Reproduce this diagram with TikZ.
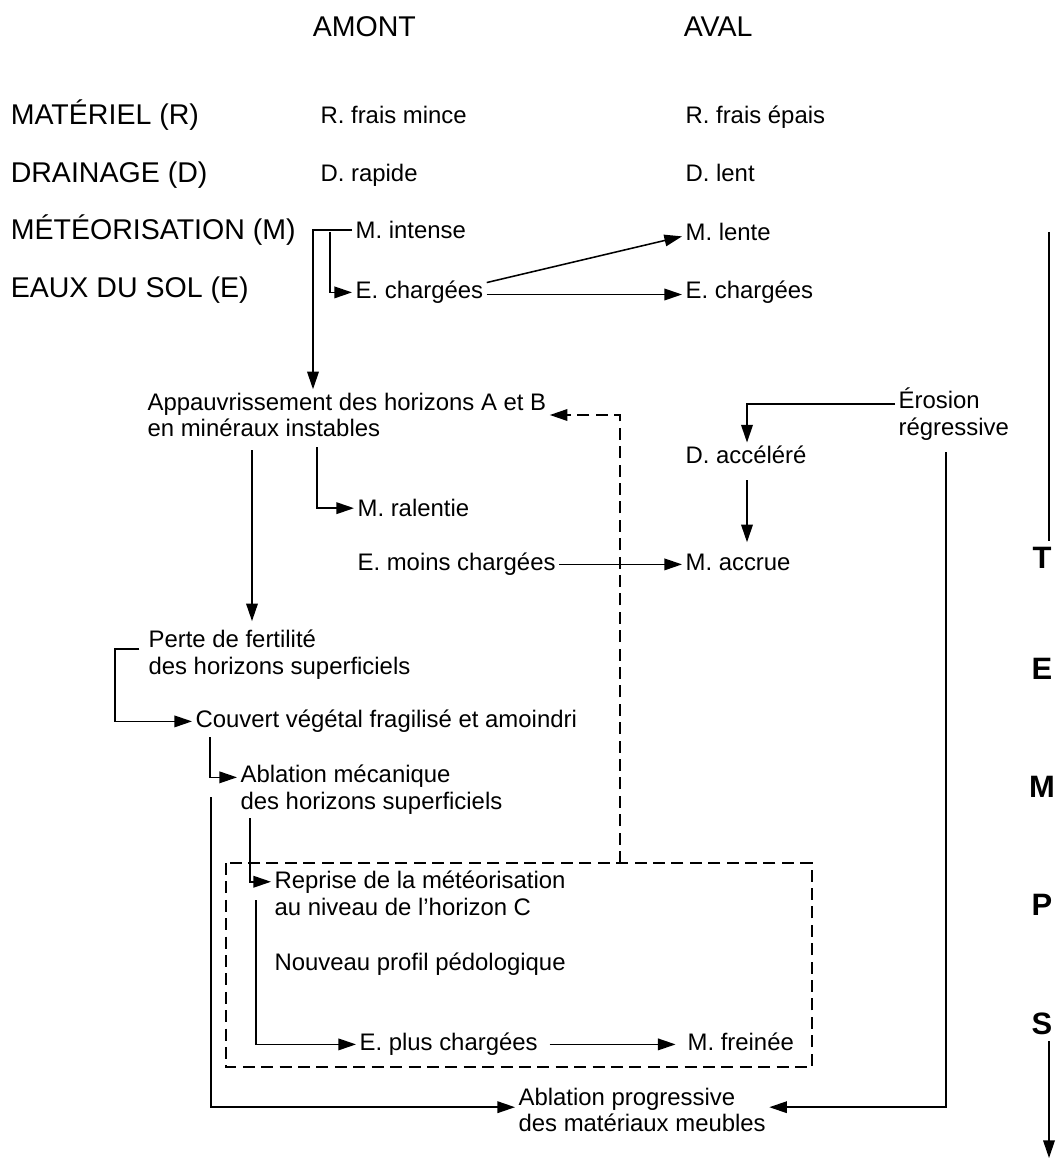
\documentclass[tikz,border=0pt]{standalone}
\usepackage{fontspec}
\setmainfont{Liberation Sans}
\usetikzlibrary{arrows.meta}

\tikzset{
  head/.style={font=\fontsize{20.3}{24}\selectfont, inner sep=0pt, anchor=mid west},
  txt/.style={font=\fontsize{17}{19}\selectfont, inner xsep=2pt, inner ysep=0pt, anchor=mid west, align=left},
  bloc/.style={txt, anchor=west},
  temps/.style={font=\fontsize{22}{26}\selectfont\bfseries, inner sep=0pt},
  arr/.style={-{Triangle[length=4.4mm,width=2.9mm]}},
  dashbox/.style={dash pattern=on 3mm off 1.6mm},
}

\begin{document}
\begin{tikzpicture}[x=0.025cm, y=-0.025cm, line width=1.1pt]
\useasboundingbox (0,0) rectangle (1055,1161);

\node[head] (amont) at (312,33) {AMONT};
\node[head] (aval) at (683,33) {AVAL};
\node[head] (mat) at (10,121) {MATÉRIEL (R)};
\node[head] (drain) at (10,179) {DRAINAGE (D)};
\node[head] (meteo) at (10,236) {MÉTÉORISATION (M)};
\node[head] (eaux) at (10,294) {EAUX DU SOL (E)};

\node[txt] (rmince) at (317,120) {R. frais mince};
\node[txt] (drapide) at (317,178) {D. rapide};
\node[txt] (mintense) at (352,235) {M. intense};
\node[txt] (echarg) at (352,295) {E. chargées};
\node[txt] (repais) at (682,120) {R. frais épais};
\node[txt] (dlent) at (682,178) {D. lent};
\node[txt] (mlente) at (682,237) {M. lente};
\node[txt] (echargav) at (682,295) {E. chargées};

\node[bloc] (appauv) at (144,415) {Appauvrissement des horizons A et B\\en minéraux instables};
\node[bloc] (erosion) at (895,414) {Érosion\\régressive};
\node[txt] (dacc) at (682,460) {D. accéléré};
\node[txt] (mral) at (354,513) {M. ralentie};
\node[txt] (emoins) at (354,567) {E. moins chargées};
\node[txt] (maccr) at (682,567) {M. accrue};
\node[bloc] (perte) at (145,655) {Perte de fertilité\\des horizons superficiels};
\node[txt] (couvert) at (192,724) {Couvert végétal fragilisé et amoindri};
\node[bloc] (ablmec) at (237,790) {Ablation mécanique\\des horizons superficiels};
\node[bloc] (reprise) at (271,893) {Reprise de la météorisation\\au niveau de l'horizon C};
\node[txt] (nouveau) at (271,967) {Nouveau profil pédologique};
\node[txt] (eplus) at (356,1047) {E. plus chargées};
\node[txt] (mfrein) at (684,1047) {M. freinée};
\node[bloc] (ablprog) at (515,1110) {Ablation progressive\\des matériaux meubles};

\node[temps] (t) at (1042,558) {T};
\node[temps] (e) at (1042,669) {E};
\node[temps] (m) at (1042,787) {M};
\node[temps] (p) at (1042,905) {P};
\node[temps] (s) at (1042,1024) {S};

\coordinate (k1) at (313,232);
\coordinate (k2) at (330,232);
\coordinate (k3) at (252,450);
\coordinate (k4) at (317,447);
\coordinate (k5) at (747,480);
\coordinate (k6) at (890,404);
\coordinate (k7) at (946,452);
\coordinate (k8) at (115,649);
\coordinate (k10) at (210,737);
\coordinate (k11) at (211,797);
\coordinate (k12) at (250,818);
\coordinate (k14) at (256,900);
\coordinate (k15) at (226,863);
\coordinate (k16) at (812,1067);
\coordinate (k17) at (620,863);
\coordinate (k18) at (1049,232);
\coordinate (k19) at (1049,1158);

\draw[arr] (mintense.west) -| ([yshift=2pt]appauv.north -| k1);
\draw[arr] (k2) |- (echarg.west);
\draw[arr] ([yshift=7pt]echarg.east) -- ([yshift=-3pt]mlente.west);
\draw[arr] ([yshift=-1.5pt]echarg.east) -- ([yshift=-1.5pt]echargav.west);

\draw[arr] (k3) -- ([yshift=6pt]perte.north -| k3);
\draw[arr] (k4) |- (mral.west);
\draw[arr] (emoins.east) -- (emoins.east -| maccr.west);
\draw[arr] (erosion.west |- k6) -| ([yshift=2pt]dacc.north -| k5);
\draw[arr] (k5) -- ([yshift=8pt]maccr.north -| k5);
\draw[arr] (k7) |- ([yshift=2pt]ablprog.east);

\draw[arr] ([xshift=-4pt]perte.west |- k8) -- (k8) |- (couvert.west);
\draw[arr] (k10) |- ([yshift=9pt]ablmec.west);
\draw[arr] (k11) |- ([yshift=2pt]ablprog.west);
\draw[arr] (k12) |- ([yshift=8pt]reprise.west);
\draw[arr] (k14) |- (eplus.west);
\draw[arr, shorten <=6pt, shorten >=6pt] (eplus.east) -- (eplus.east -| mfrein.west);

\draw[dashbox] (k15) rectangle (k16);
\draw[dashbox, arr] (k17) |- (appauv.east);

\draw (k18) -- ([yshift=4pt]t.north -| k18);
\draw[arr] ([yshift=-4pt]s.south -| k19) -- (k19);
\end{tikzpicture}
\end{document}
